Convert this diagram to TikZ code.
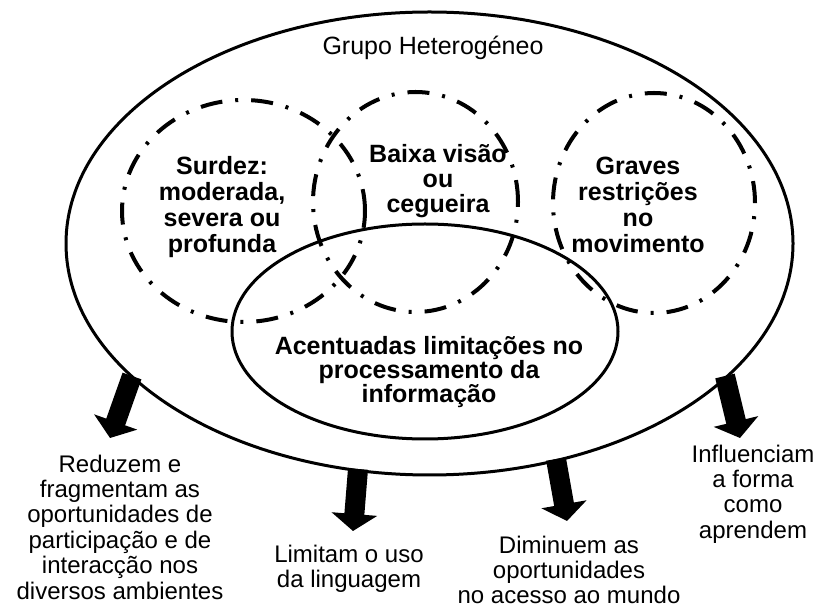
\documentclass[tikz,border=0pt]{standalone}
\usepackage{fontspec}
\setmainfont{Liberation Sans}
\usetikzlibrary{shapes.geometric,arrows.meta}
\begin{document}
\begin{tikzpicture}[x=0.5pt,y=-0.5pt,
  solidell/.style={draw, ellipse, line width=1.5pt, inner sep=0pt},
  dashell/.style={draw, ellipse, line width=2pt, inner sep=0pt, dash pattern=on 11pt off 6.5pt on 1.5pt off 6.5pt},
  intext/.style={align=center, font=\fontsize{12.5}{13.1}\selectfont\bfseries, inner sep=0pt},
  outtext/.style={align=center, font=\fontsize{12}{12.7}\selectfont, inner sep=0pt},
  bigarrow/.style={line width=10pt, -{Triangle[width=22.5pt,length=8.5pt]}}
]
\fill[white] (0,0) rectangle (819,608);
\useasboundingbox (0,0) rectangle (819,608);

% ellipses
\node[solidell, minimum width=363.5pt, minimum height=231.5pt] (outer) at (429.5,243.5) {};
\node[dashell, minimum width=121.5pt, minimum height=111pt] (surdez) at (243.5,211) {};
\node[dashell, minimum width=102.5pt, minimum height=110pt] (visao) at (415.5,202) {};
\node[dashell, minimum width=101pt, minimum height=110pt] (motor) at (654,203) {};
\node[solidell, minimum width=193pt, minimum height=107.5pt] (inner) at (425,331.5) {};

% texts inside
\node[font=\fontsize{12.5}{13}\selectfont, inner sep=0pt] (title) at (433,48) {Grupo Heterogéneo};
\node[intext] (tsurdez) at (222,207) {Surdez:\\moderada,\\severa ou\\profunda};
\node[intext, font=\fontsize{12.5}{12.6}\selectfont\bfseries] (tvisao) at (438,181) {Baixa visão\\ou\\cegueira};
\node[intext] (tmotor) at (638,205) {Graves\\restrições\\no\\movimento};
\node[intext, font=\fontsize{12.5}{12.2}\selectfont\bfseries] (tinner) at (429,372) {Acentuadas limitações no\\processamento da\\informação};

% texts outside
\node[outtext] (t1) at (120,527) {Reduzem e\\fragmentam as\\oportunidades de\\participação e de\\interacção nos\\diversos ambientes};
\node[outtext] (t2) at (349,569) {Limitam o uso\\da linguagem};
\node[outtext] (t3) at (569,570) {Diminuem as\\oportunidades\\no acesso ao mundo};
\node[outtext] (t4) at (753,494) {Influenciam\\a forma\\como\\aprendem};

% arrows
\coordinate (a1s) at (132,376);
\coordinate (a1t) at (110,438);
\coordinate (a2s) at (358,469);
\coordinate (a2t) at (353,531);
\coordinate (a3s) at (556,459);
\coordinate (a3t) at (567,521);
\coordinate (a4s) at (725,376);
\coordinate (a4t) at (740,438);
\draw[bigarrow] (a1s) -- (a1t);
\draw[bigarrow] (a2s) -- (a2t);
\draw[bigarrow] (a3s) -- (a3t);
\draw[bigarrow] (a4s) -- (a4t);
\end{tikzpicture}
\end{document}
